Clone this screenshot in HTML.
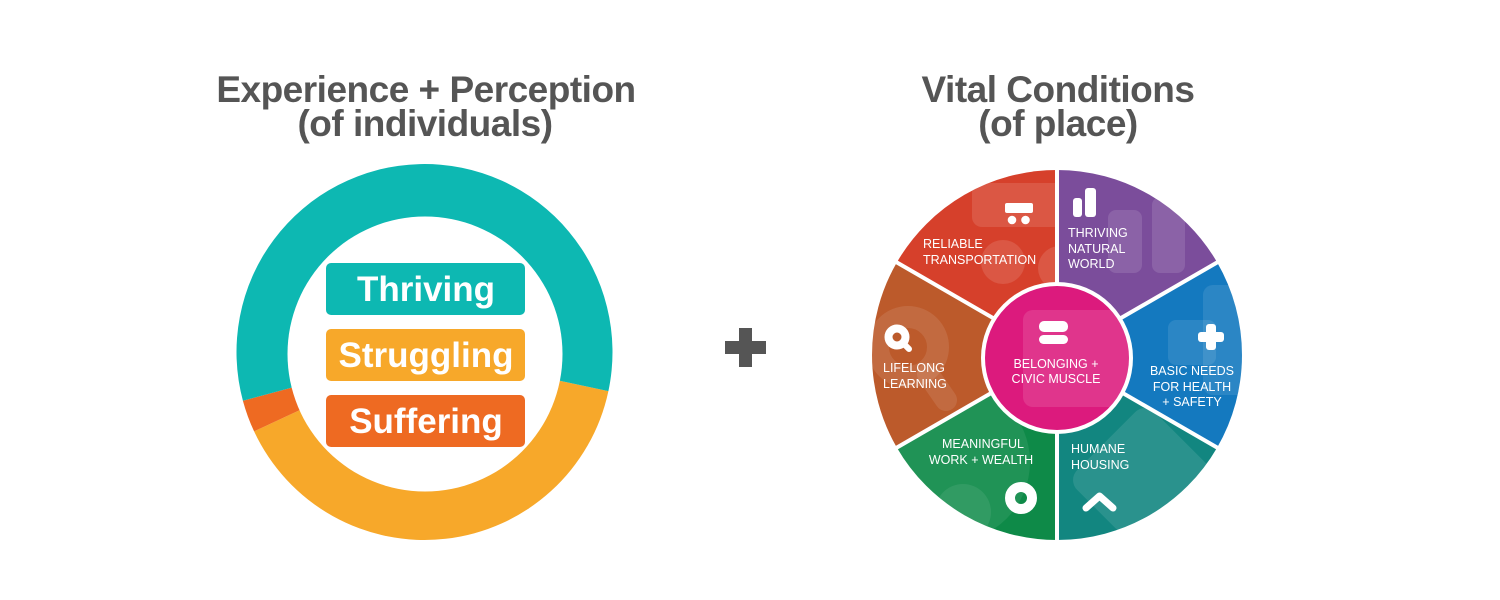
<!DOCTYPE html>
<html>
<head>
<meta charset="utf-8">
<style>
  html, body { margin:0; padding:0; background:#ffffff; }
  body { width:1500px; height:600px; overflow:hidden; }
  svg { display:block; }
  .title { font-family:"Liberation Sans", sans-serif; font-weight:bold; font-size:37px; fill:#555555; letter-spacing:-0.5px; }
  .box { font-family:"Liberation Sans", sans-serif; font-weight:bold; font-size:35px; fill:#ffffff; }
  .wl { font-family:"Liberation Sans", sans-serif; font-size:12.5px; fill:#ffffff; }
</style>
</head>
<body>
<svg width="1500" height="600" viewBox="0 0 1500 600" xmlns="http://www.w3.org/2000/svg">
  <defs>
    <clipPath id="cRed"><path d="M1057 355 L896.8 262.5 A185 185 0 0 1 1057 170 Z"/></clipPath>
    <clipPath id="cPur"><path d="M1057 355 L1057 170 A185 185 0 0 1 1217.2 262.5 Z"/></clipPath>
    <clipPath id="cBlu"><path d="M1057 355 L1217.2 262.5 A185 185 0 0 1 1217.2 447.5 Z"/></clipPath>
    <clipPath id="cTea"><path d="M1057 355 L1217.2 447.5 A185 185 0 0 1 1057 540 Z"/></clipPath>
    <clipPath id="cGrn"><path d="M1057 355 L1057 540 A185 185 0 0 1 896.8 447.5 Z"/></clipPath>
    <clipPath id="cOrg"><path d="M1057 355 L896.8 447.5 A185 185 0 0 1 896.8 262.5 Z"/></clipPath>
    <clipPath id="cPink"><circle cx="1057" cy="358" r="72"/></clipPath>
  </defs>

  <!-- Titles -->
  <text class="title" x="426" y="102" text-anchor="middle">Experience + Perception</text>
  <text class="title" x="425" y="136" text-anchor="middle">(of individuals)</text>
  <text class="title" x="1058" y="102" text-anchor="middle">Vital Conditions</text>
  <text class="title" x="1058" y="136" text-anchor="middle">(of place)</text>

  <!-- Left donut -->
  <path d="M424.5 352 L608.4 391.1 A188 188 0 0 1 254.1 431.4 Z" fill="#F7A82A"/>
  <path d="M424.5 352 L254.1 431.4 A188 188 0 0 1 242.9 400.7 Z" fill="#EE6A22"/>
  <path d="M424.5 352 L242.9 400.7 A188 188 0 1 1 608.4 391.1 Z" fill="#0DB8B2"/>
  <circle cx="425" cy="354" r="137.5" fill="#ffffff"/>

  <rect x="326" y="263" width="199" height="52" rx="5" fill="#0DB8B2"/>
  <rect x="326" y="329" width="199" height="52" rx="5" fill="#F7A82A"/>
  <rect x="326" y="395" width="199" height="52" rx="5" fill="#EE6A22"/>
  <text class="box" x="426" y="301" text-anchor="middle">Thriving</text>
  <text class="box" x="426" y="367" text-anchor="middle">Struggling</text>
  <text class="box" x="426" y="433" text-anchor="middle">Suffering</text>

  <!-- Plus -->
  <rect x="725" y="341" width="41" height="13" fill="#555555"/>
  <rect x="739" y="328" width="13" height="39" fill="#555555"/>

  <!-- Wheel wedges -->
  <path d="M1057 355 L896.8 262.5 A185 185 0 0 1 1057 170 Z" fill="#D6402B"/>
  <path d="M1057 355 L1057 170 A185 185 0 0 1 1217.2 262.5 Z" fill="#7B4D9B"/>
  <path d="M1057 355 L1217.2 262.5 A185 185 0 0 1 1217.2 447.5 Z" fill="#1479BF"/>
  <path d="M1057 355 L1217.2 447.5 A185 185 0 0 1 1057 540 Z" fill="#128680"/>
  <path d="M1057 355 L1057 540 A185 185 0 0 1 896.8 447.5 Z" fill="#0E8A48"/>
  <path d="M1057 355 L896.8 447.5 A185 185 0 0 1 896.8 262.5 Z" fill="#BC5A2B"/>

  <!-- Overlays -->
  <g clip-path="url(#cRed)" fill="#ffffff" fill-opacity="0.12">
    <rect x="972" y="183" width="95" height="44" rx="10"/>
    <circle cx="1003" cy="262" r="22"/>
    <circle cx="1060" cy="268" r="22"/>
  </g>
  <g clip-path="url(#cPur)" fill="#ffffff" fill-opacity="0.12">
    <rect x="1108" y="210" width="34" height="63" rx="8"/>
    <rect x="1152" y="197" width="33" height="76" rx="8"/>
  </g>
  <g clip-path="url(#cBlu)" fill="#ffffff" fill-opacity="0.1">
    <rect x="1168" y="320" width="48" height="45" rx="8"/>
    <rect x="1203" y="285" width="50" height="110" rx="10"/>
  </g>
  <g clip-path="url(#cTea)" fill="#ffffff" fill-opacity="0.1">
    <rect x="1090" y="425" width="110" height="110" rx="14" transform="rotate(45 1145 480)"/>
  </g>
  <g clip-path="url(#cGrn)" fill="#ffffff" fill-opacity="0.08">
    <circle cx="950" cy="462" r="80"/>
    <circle cx="963" cy="512" r="28"/>
  </g>
  <g clip-path="url(#cOrg)" fill="none" stroke="#ffffff" stroke-opacity="0.1">
    <circle cx="908" cy="347" r="30" stroke-width="22"/>
    <line x1="928" y1="374" x2="946" y2="400" stroke-width="22" stroke-linecap="round"/>
  </g>

  <!-- Separators -->
  <g stroke="#ffffff" stroke-width="4">
    <line x1="1057" y1="355" x2="1057" y2="165"/>
    <line x1="1057" y1="355" x2="1057" y2="545"/>
    <line x1="1057" y1="355" x2="1222" y2="259.6"/>
    <line x1="1057" y1="355" x2="1222" y2="450.4"/>
    <line x1="1057" y1="355" x2="892" y2="259.6"/>
    <line x1="1057" y1="355" x2="892" y2="450.4"/>
  </g>

  <!-- Center circle -->
  <circle cx="1057" cy="358" r="76" fill="#ffffff"/>
  <circle cx="1057" cy="358" r="72" fill="#DC1A7D"/>
  <g clip-path="url(#cPink)" fill="#ffffff" fill-opacity="0.12">
    <rect x="1023" y="310" width="120" height="97" rx="10"/>
  </g>

  <!-- Icons -->
  <g fill="#ffffff">
    <!-- transportation -->
    <rect x="1005" y="203" width="28" height="10" rx="2"/>
    <circle cx="1012" cy="220" r="4.3"/>
    <circle cx="1025.5" cy="220" r="4.3"/>
    <!-- natural world bars -->
    <rect x="1073" y="198" width="9" height="19" rx="3"/>
    <rect x="1085" y="188" width="11" height="29" rx="3"/>
    <!-- plus -->
    <rect x="1198" y="332" width="26" height="10" rx="3"/>
    <rect x="1206" y="324" width="10" height="26" rx="3"/>
    <!-- belonging -->
    <rect x="1039" y="321" width="29" height="11" rx="5"/>
    <rect x="1039" y="335" width="29" height="9" rx="4.5"/>
  </g>
  <!-- Q -->
  <circle cx="897" cy="337" r="8.5" fill="none" stroke="#ffffff" stroke-width="8"/>
  <line x1="903" y1="343" x2="909" y2="349" stroke="#ffffff" stroke-width="6" stroke-linecap="round"/>
  <!-- ring -->
  <circle cx="1021" cy="498" r="11" fill="none" stroke="#ffffff" stroke-width="10"/>
  <!-- chevron -->
  <polyline points="1086,508 1099.5,496 1113,508" fill="none" stroke="#ffffff" stroke-width="7" stroke-linecap="round" stroke-linejoin="round"/>

  <!-- Wheel labels -->
  <text class="wl" x="923" y="248">RELIABLE</text>
  <text class="wl" x="923" y="264">TRANSPORTATION</text>

  <text class="wl" x="1068" y="237">THRIVING</text>
  <text class="wl" x="1068" y="253">NATURAL</text>
  <text class="wl" x="1068" y="268">WORLD</text>

  <text class="wl" x="883" y="372">LIFELONG</text>
  <text class="wl" x="883" y="388">LEARNING</text>

  <text class="wl" x="1192" y="375" text-anchor="middle">BASIC NEEDS</text>
  <text class="wl" x="1192" y="391" text-anchor="middle">FOR HEALTH</text>
  <text class="wl" x="1192" y="406" text-anchor="middle">+ SAFETY</text>

  <text class="wl" x="1056" y="368" text-anchor="middle">BELONGING +</text>
  <text class="wl" x="1056" y="383" text-anchor="middle">CIVIC MUSCLE</text>

  <text class="wl" x="983" y="448" text-anchor="middle">MEANINGFUL</text>
  <text class="wl" x="981" y="464" text-anchor="middle">WORK + WEALTH</text>

  <text class="wl" x="1071" y="453">HUMANE</text>
  <text class="wl" x="1071" y="469">HOUSING</text>
</svg>
</body>
</html>
